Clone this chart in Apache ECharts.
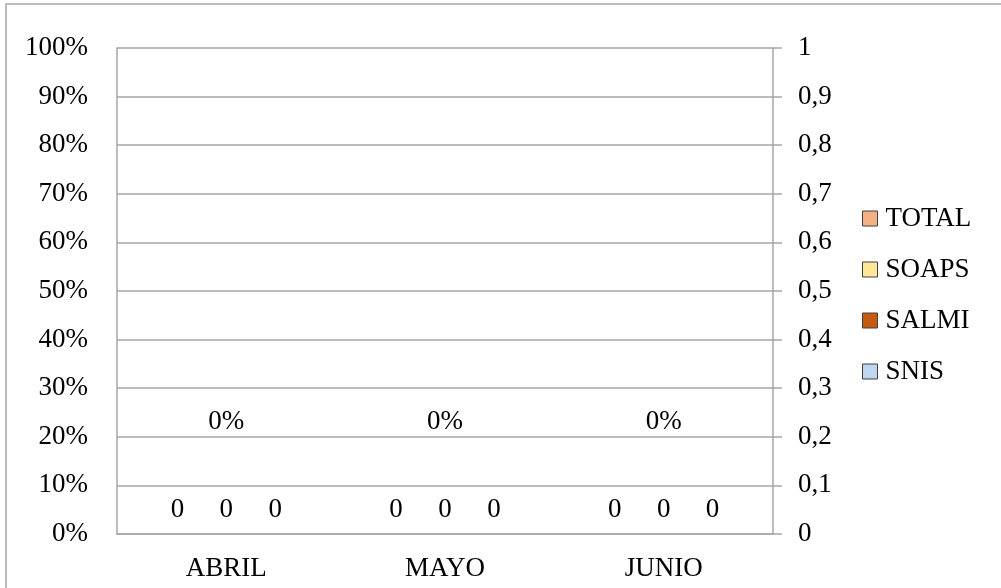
<!DOCTYPE html>
<html>
<head>
<meta charset="utf-8">
<script src="https://cdn.jsdelivr.net/npm/echarts@6/dist/echarts.min.js"></script>
<style>
  html, body { margin: 0; padding: 0; background: #fff; }
  #container { width: 1001px; height: 588px; }
</style>
</head>
<body>
<div id="container"></div>
<script>
var months = ['ABRIL', 'MAYO', 'JUNIO'];
var snis = [0, 0, 0];
var salmi = [0, 0, 0];
var soaps = [0, 0, 0];
var total = [0, 0, 0];   // porcentaje

var myChart = echarts.init(document.getElementById('container'));
var font = 'Liberation Serif';
var gris = '#a6a6a6';

var option = {
    animation: false,
    color: ['#BDD7EE', '#C55A11', '#FFE699', '#F4B183'],
    textStyle: { fontFamily: font },
    graphic: [{
        type: 'rect',
        shape: { x: 6, y: 4, width: 1100, height: 700 },
        style: { fill: 'none', stroke: gris, lineWidth: 1.5 }
    }],
    legend: {
        orient: 'vertical',
        left: 857,
        top: 200,
        itemWidth: 15,
        itemHeight: 15,
        itemGap: 24,
        icon: 'rect',
        itemStyle: { borderColor: '#404040', borderWidth: 1 },
        textStyle: { color: '#000', fontSize: 27, fontFamily: font, padding: [0, 0, 0, 3] },
        data: ['TOTAL', 'SOAPS', 'SALMI', 'SNIS']
    },
    grid: { left: 117, right: 228, top: 48, bottom: 54 },
    xAxis: [{
        type: 'category',
        data: months,
        axisLine: { lineStyle: { color: gris, width: 1.5 } },
        axisTick: { show: false },
        axisLabel: { color: '#000', fontSize: 27, fontFamily: font, margin: 21 }
    }, {
        type: 'category',
        data: months,
        show: false
    }],
    yAxis: [{
        type: 'value',
        min: 0, max: 100, interval: 10,
        axisLine: { show: true, lineStyle: { color: gris, width: 1.5 } },
        axisTick: { show: false },
        splitLine: { lineStyle: { color: gris, width: 1.5 } },
        axisLabel: { color: '#000', fontSize: 27, fontFamily: font, margin: 29, formatter: '{value}%' }
    }, {
        type: 'value',
        min: 0, max: 1, interval: 0.1,
        axisLine: { show: true, lineStyle: { color: gris, width: 1.5 } },
        axisTick: { show: true, length: 9, lineStyle: { color: gris, width: 1.5 } },
        splitLine: { show: false },
        axisLabel: {
            color: '#000', fontSize: 27, fontFamily: font, margin: 25, align: 'left',
            formatter: function (v) { return String(Math.round(v * 10) / 10).replace('.', ','); }
        }
    }],
    series: [{
        name: 'SNIS', type: 'bar', yAxisIndex: 1, data: snis,
        barWidth: 30, barGap: '63%',
        label: { show: true, position: 'top', distance: 11, color: '#000', fontSize: 27, fontFamily: font }
    }, {
        name: 'SALMI', type: 'bar', yAxisIndex: 1, data: salmi,
        barWidth: 30, barGap: '63%',
        label: { show: true, position: 'top', distance: 11, color: '#000', fontSize: 27, fontFamily: font }
    }, {
        name: 'SOAPS', type: 'bar', yAxisIndex: 1, data: soaps,
        barWidth: 30, barGap: '63%',
        label: { show: true, position: 'top', distance: 11, color: '#000', fontSize: 27, fontFamily: font }
    }, {
        name: 'TOTAL', type: 'bar', xAxisIndex: 1, yAxisIndex: 0, data: total,
        barWidth: 30,
        label: { show: true, position: 'top', distance: 99, color: '#000', fontSize: 27, fontFamily: font, formatter: '{c}%' }
    }]
};

if (option && typeof option === "object") {
    myChart.setOption(option, true);
}
</script>
</body>
</html>
